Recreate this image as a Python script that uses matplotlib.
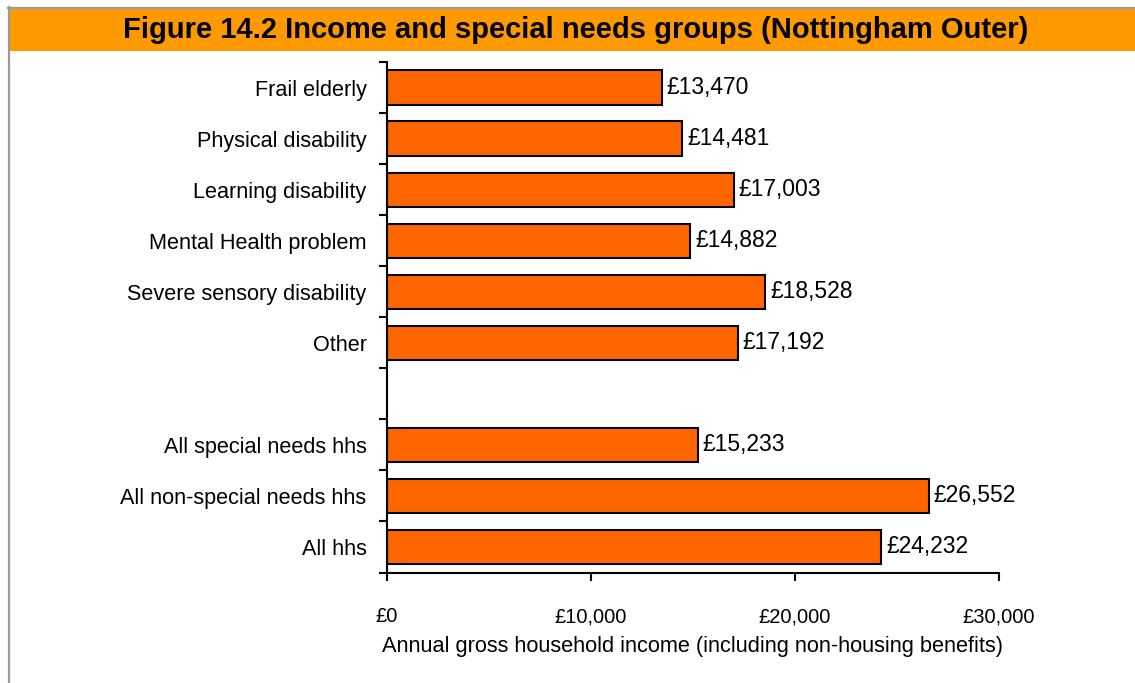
import matplotlib
matplotlib.use("Agg")
import matplotlib.pyplot as plt
from matplotlib.patches import Rectangle
from matplotlib.lines import Line2D

# Data
categories = ["Frail elderly", "Physical disability", "Learning disability",
              "Mental Health problem", "Severe sensory disability", "Other",
              "", "All special needs hhs", "All non-special needs hhs", "All hhs"]
incomes = [13470, 14481, 17003, 14882, 18528, 17192, None, 15233, 26552, 24232]
xticks = [0, 10000, 20000, 30000]
xtick_labels = ["£0", "£10,000", "£20,000", "£30,000"]
title = "Figure 14.2 Income and special needs groups (Nottingham Outer)"
xlabel = "Annual gross household income (including non-housing benefits)"

plt.rcParams["font.family"] = ["Liberation Sans", "DejaVu Sans"]

W, H = 1135, 683
fig = plt.figure(figsize=(W / 100, H / 100), dpi=100)

# Frame and title band
fig.add_artist(Line2D([8.5 / W, 8.5 / W], [0, 1 - 7 / H], color="#999999", lw=1.6,
                      transform=fig.transFigure))
fig.add_artist(Line2D([8 / W, 1], [1 - 7.5 / H, 1 - 7.5 / H], color="#999999", lw=1.6,
                      transform=fig.transFigure))
fig.add_artist(Rectangle((10 / W, 1 - 51 / H), 1 - 10 / W, 42 / H, facecolor="#FF9900",
                         edgecolor="none", transform=fig.transFigure))
fig.text(576 / W, 1 - 30 / H, title, ha="center", va="center", fontsize=21,
         fontweight="bold")

ax = fig.add_axes([386.7 / W, 1 - 572.5 / H, (999 - 386.7) / W, (572.5 - 62) / H])

ypos = list(range(len(categories)))
for y, v in zip(ypos, incomes):
    if v is None:
        continue
    ax.barh(y, v, height=0.67, color="#FF6600", edgecolor="black", linewidth=1.5)
    ax.text(v + 250, y, f"£{v:,}", va="center", ha="left", fontsize=16.5)

ax.set_xlim(0, 30000)
ax.set_ylim(len(categories) - 0.5, -0.5)
ax.set_xticks(xticks)
ax.set_xticklabels(xtick_labels, fontsize=14.5)
ax.set_yticks(ypos)
ax.set_yticklabels(categories, fontsize=15.6)
ax.set_yticks([i - 0.5 for i in range(len(categories) + 1)], minor=True)
ax.tick_params(axis="y", which="major", length=0, pad=14.5)
ax.tick_params(axis="y", which="minor", length=6, width=1.5, direction="out")
ax.tick_params(axis="x", length=6, width=1.5, direction="out", pad=19)
ax.set_xlabel(xlabel, fontsize=15.7, labelpad=7)

for s in ["top", "right"]:
    ax.spines[s].set_visible(False)
for s in ["left", "bottom"]:
    ax.spines[s].set_linewidth(1.5)

fig.savefig("out.png", dpi=100)
